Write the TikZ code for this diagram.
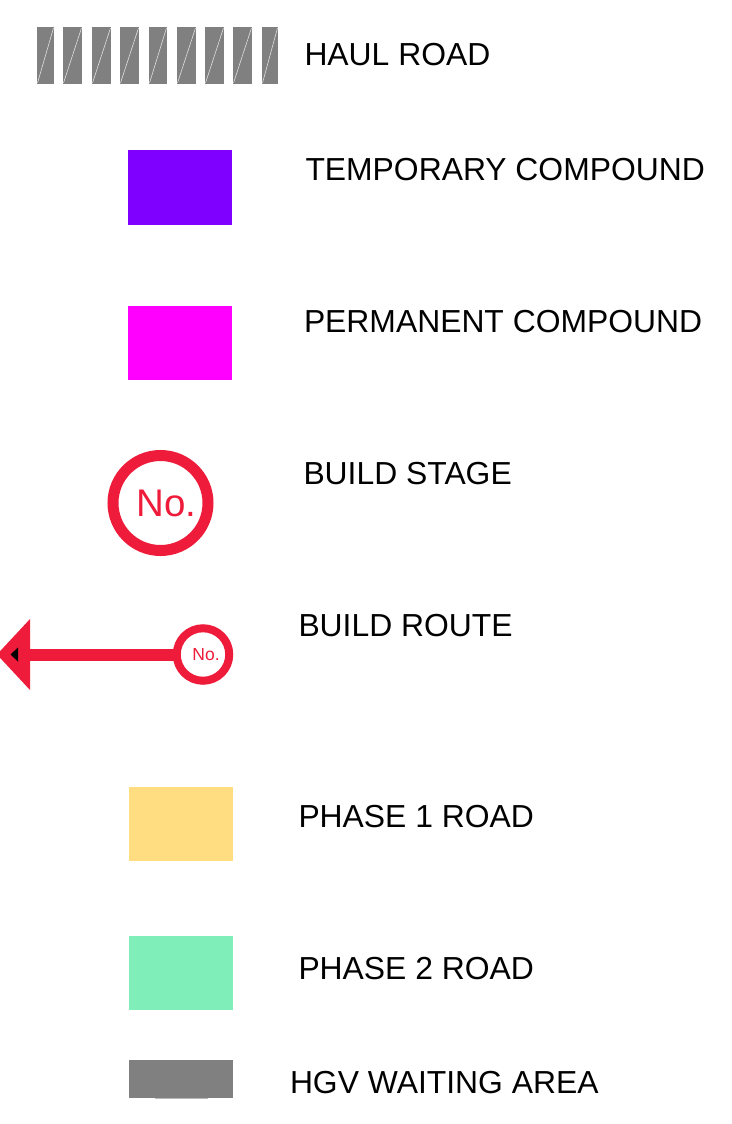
\documentclass[tikz,border=0pt]{standalone}
\usepackage{fontspec}
\setmainfont{Liberation Sans}
\definecolor{routered}{HTML}{EE1C3A}
\definecolor{tempc}{HTML}{8000FF}
\definecolor{permc}{HTML}{FF00FF}
\definecolor{ph1}{HTML}{FFDD80}
\definecolor{ph2}{HTML}{80EEB8}
\definecolor{hgv}{HTML}{808080}
\tikzset{
  lbl/.style={anchor=base west,inner sep=0pt,outer sep=0pt,font=\fontsize{31.85}{36}\selectfont,text=black},
  swatch/.style={draw=none,anchor=north west,inner sep=0pt,outer sep=0pt},
  stagecirc/.style={circle,draw=routered,fill=white,line width=11pt,minimum size=95pt,inner sep=0pt,outer sep=0pt,text=routered,font=\fontsize{38.5}{40}\selectfont},
  routecirc/.style={circle,draw=routered,fill=white,line width=8pt,minimum size=52.5pt,inner sep=0pt,outer sep=0pt,text=routered,font=\fontsize{17.5}{20}\selectfont},
  hatchbar/.style={fill=hgv,draw=none},
  hatchline/.style={draw=white!75!hgv,line width=0.6pt}
}
\newcommand{\hatchbox}[2]{%
  \fill[hatchbar] (#1,27) rectangle (#2,84);
  \draw[hatchline] (#1+0.5,83) -- (#2-0.5,28);
}
\begin{document}
\begin{tikzpicture}[x=1pt,y=-1pt]
\useasboundingbox (0,0) rectangle (731,1124);
\hatchbox{37}{54}
\hatchbox{63}{82}
\hatchbox{92}{111}
\hatchbox{120}{139}
\hatchbox{149}{167}
\hatchbox{177}{196}
\hatchbox{205}{224}
\hatchbox{233}{252}
\hatchbox{262}{278}
\node[lbl] (t1) at (304.5,66) {HAUL ROAD};

\node[swatch,fill=tempc,minimum width=104pt,minimum height=75pt] (s2) at (128,150) {};
\node[lbl] (t2) at (305.5,180.5) {TEMPORARY COMPOUND};

\node[swatch,fill=permc,minimum width=103.5pt,minimum height=74pt] (s3) at (128,306) {};
\node[lbl] (t3) at (304,332.5) {PERMANENT COMPOUND};

\node[stagecirc] (c4) at (160.5,503) {\raisebox{-1.5pt}{\hspace{12pt}No.}};
\node[lbl] (t4) at (303.5,484.5) {BUILD STAGE};

\coordinate (tipbase) at (30,654.5);
\draw[routered,line width=12pt] (203,654.5) -- (tipbase);
\node[routecirc] (c5) at (203,654.5) {\hspace{6pt}No.};
\fill[routered] (30,619) -- (-3,654.5) -- (30,690) -- cycle;
\fill[black] (18,647.5) -- (10.5,654.5) -- (18,661.5) -- cycle;
\node[lbl] (t5) at (298.5,636.5) {BUILD ROUTE};

\node[swatch,fill=ph1,minimum width=104pt,minimum height=74pt] (s6) at (129,787) {};
\node[lbl] (t6) at (298.5,827.5) {PHASE 1 ROAD};

\node[swatch,fill=ph2,minimum width=104pt,minimum height=74pt] (s7) at (129,936) {};
\node[lbl] (t7) at (298.5,979.5) {PHASE 2 ROAD};

\node[swatch,fill=hgv,minimum width=104pt,minimum height=38pt] (s8) at (129,1059.5) {};
\fill[hgv!55!white] (155,1097.5) rectangle (208,1098.5);
\node[lbl] (t8) at (290,1093.5) {HGV WAITING AREA};
\end{tikzpicture}
\end{document}
